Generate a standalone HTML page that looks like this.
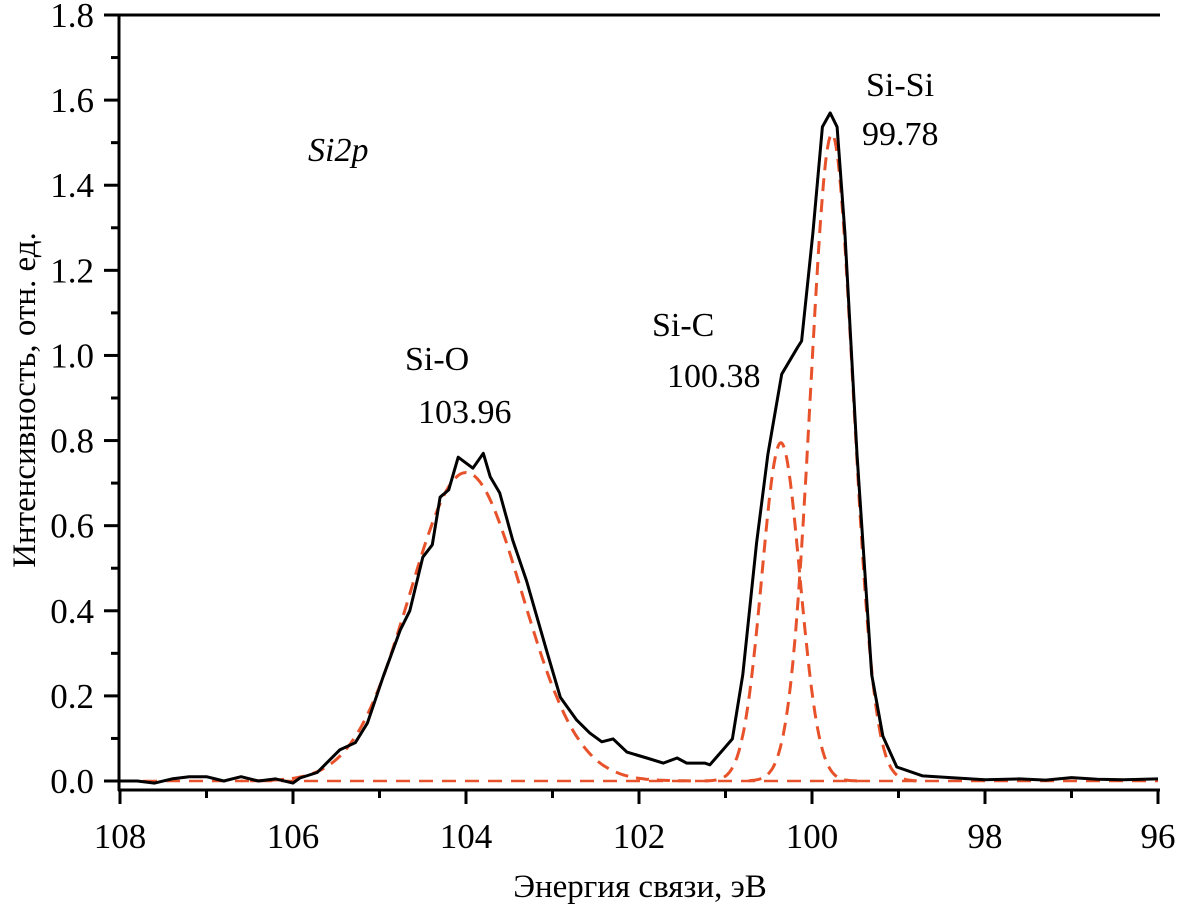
<!DOCTYPE html>
<html><head><meta charset="utf-8">
<style>
html,body{margin:0;padding:0;background:#fff;}
svg text{font-family:"Liberation Serif","Times New Roman",serif;}
</style></head>
<body>
<svg id="chart" width="1185" height="910" viewBox="0 0 1185 910" xmlns="http://www.w3.org/2000/svg" font-family="Liberation Serif, serif">
  <g id="axes"></g>
  <g id="series"></g>
  <text x="0" y="0" transform="translate(35,400) rotate(-90)" text-anchor="middle" font-size="33">Интенсивность, отн. ед.</text>
  <text x="640" y="897" text-anchor="middle" font-size="33">Энергия связи, эВ</text>
  <text x="308" y="161" font-size="34" font-style="italic">Si2p</text>
  <text x="405" y="370" font-size="34">Si-O</text>
  <text x="418" y="423" font-size="34">103.96</text>
  <text x="652" y="336" font-size="34">Si-C</text>
  <text x="667" y="387" font-size="34">100.38</text>
  <text x="866" y="96" font-size="34">Si-Si</text>
  <text x="862" y="145" font-size="34">99.78</text>
</svg>
<script>
// ---- data ----
const xTicks = [108, 106, 104, 102, 100, 98, 96];
const yTicks = [0.0, 0.2, 0.4, 0.6, 0.8, 1.0, 1.2, 1.4, 1.6, 1.8];
const yTickLabels = ["0.0","0.2","0.4","0.6","0.8","1.0","1.2","1.4","1.6","1.8"];
const measuredEnergy = [108.0,107.8,107.6,107.4,107.2,107.0,106.8,106.6,106.4,106.2,106.0,105.92,105.72,105.46,105.28,105.14,104.96,104.76,104.65,104.5,104.39,104.3,104.2,104.09,103.92,103.8,103.72,103.61,103.46,103.3,103.07,102.91,102.72,102.57,102.43,102.3,102.14,101.91,101.72,101.56,101.45,101.24,101.18,101.03,100.92,100.8,100.64,100.51,100.35,100.17,100.12,99.99,99.88,99.79,99.71,99.62,99.48,99.31,99.18,99.02,98.72,98.4,98.0,97.6,97.3,97.0,96.7,96.4,96.0];
const measuredIntensity = [0.0,0.0,-0.005,0.005,0.01,0.01,0.0,0.01,0.0,0.005,-0.005,0.007,0.02,0.073,0.09,0.136,0.244,0.355,0.40,0.526,0.555,0.667,0.684,0.761,0.735,0.77,0.715,0.677,0.566,0.47,0.308,0.197,0.143,0.113,0.092,0.099,0.068,0.054,0.042,0.054,0.042,0.042,0.038,0.073,0.099,0.25,0.56,0.768,0.956,1.018,1.034,1.288,1.537,1.57,1.537,1.288,0.768,0.25,0.105,0.033,0.012,0.008,0.003,0.005,0.002,0.008,0.004,0.003,0.005];
const componentNames = ["si-o","si-c","si-si"];
const componentCenters = [104.0, 100.36, 99.77];
const componentAmplitudes = [0.725, 0.795, 1.52];
const componentSigmas = [0.65, 0.22, 0.245];

// ---- scales ----
const X0 = 120, X1 = 1158, Y0 = 781, Y1 = 15;
function xs(e){ return X0 + (108 - e) * (X1 - X0) / 12; }
function ys(v){ return Y0 - v * (Y0 - Y1) / 1.8; }
const NS = "http://www.w3.org/2000/svg";
function mk(tag, attrs, parent){
  const el = document.createElementNS(NS, tag);
  for (const k in attrs) el.setAttribute(k, attrs[k]);
  parent.appendChild(el);
  return el;
}
const axes = document.getElementById('axes');
const series = document.getElementById('series');

let l = mk('line',{x1:119,y1:15,x2:119,y2:791,stroke:'#000','stroke-width':3},axes);


l = mk('line',{x1:118,y1:790,x2:1160,y2:790,stroke:'#000','stroke-width':3},axes);


l = mk('line',{x1:104,y1:15,x2:1160,y2:15,stroke:'#000','stroke-width':3},axes);



yTicks.forEach((v,i)=>{
  const t = mk('line',{x1:104,y1:ys(v),x2:119,y2:ys(v),stroke:'#000','stroke-width':3},axes);
  
  
  const tx = mk('text',{x:94,y:ys(v)+12,'text-anchor':'end','font-size':35},axes);
  tx.textContent = yTickLabels[i];
  
  
  if (i < yTicks.length-1){
    const m = mk('line',{x1:111,y1:ys(v+0.1),x2:119,y2:ys(v+0.1),stroke:'#000','stroke-width':3},axes);
    
    
  }
});
xTicks.forEach((e,i)=>{
  const t = mk('line',{x1:xs(e),y1:790,x2:xs(e),y2:804,stroke:'#000','stroke-width':3},axes);
  
  
  const tx = mk('text',{x:xs(e),y:848,'text-anchor':'middle','font-size':35},axes);
  tx.textContent = String(e);
  
  
  if (i < xTicks.length-1){
    const m = mk('line',{x1:xs(e-1),y1:790,x2:xs(e-1),y2:798,stroke:'#000','stroke-width':3},axes);
    
    
  }
});

const bl = mk('line',{x1:xs(108),y1:ys(0),x2:xs(96),y2:ys(0),stroke:'#e8522a','stroke-width':2.5,'stroke-dasharray':'14 9'},series);



componentCenters.forEach((c,i)=>{
  const a = componentAmplitudes[i], s = componentSigmas[i];
  let d = '';
  for (let e = c - 4*s; e <= c + 4*s + 1e-9; e += s/20){
    const v = a * Math.exp(-0.5*Math.pow((e-c)/s,2));
    d += (d ? 'L' : 'M') + xs(e).toFixed(1) + ',' + ys(v).toFixed(1);
  }
  const p = mk('path',{d:d,fill:'none',stroke:'#e8522a','stroke-width':3,'stroke-dasharray':'13 8'},series);
  
  
});

let dm = '';
measuredEnergy.forEach((e,i)=>{
  dm += (i ? 'L' : 'M') + xs(e).toFixed(1) + ',' + ys(measuredIntensity[i]).toFixed(1);
});
const ml = mk('path',{d:dm,fill:'none',stroke:'#000','stroke-width':3,'stroke-linejoin':'round'},series);


</script>
</body></html>
